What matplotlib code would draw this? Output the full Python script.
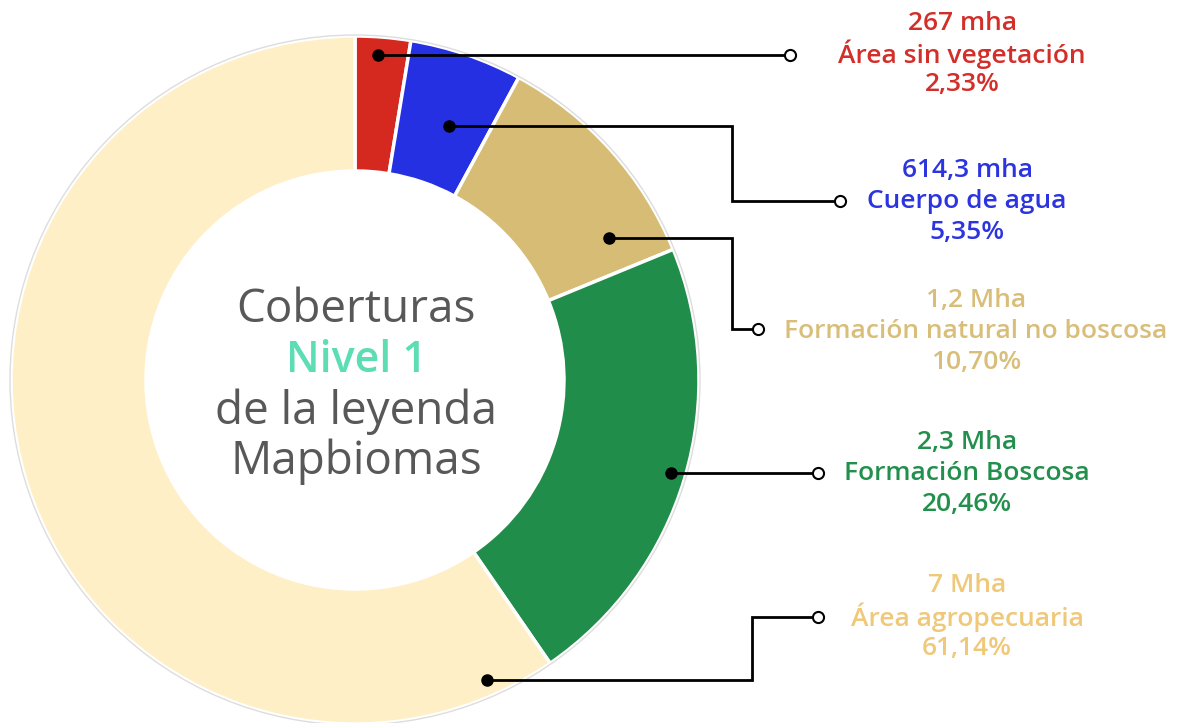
import matplotlib
matplotlib.use("Agg")
import matplotlib.pyplot as plt
from matplotlib.patches import Circle

plt.rcParams['font.family'] = ['Open Sans', 'DejaVu Sans']

# data
categories = ['Área sin vegetación', 'Cuerpo de agua', 'Formación natural no boscosa',
              'Formación Boscosa', 'Área agropecuaria']
areas = ['267 mha', '614,3 mha', '1,2 Mha', '2,3 Mha', '7 Mha']
shares = [2.33, 5.35, 10.70, 20.46, 61.14]
# wedge sizes as drawn in the chart (read from the ring, slightly off the labels)
wedge_sizes = [2.6, 5.3, 10.9, 21.6, 59.6]
wedge_colors = ['#D5281E', '#2530E2', '#D6BC75', '#208D4B', '#FFEFC6']
text_colors = ['#D32F2A', '#2B34DF', '#D8BE79', '#22904C', '#EFC879']

W, H = 1181, 723
fig = plt.figure(figsize=(W / 100, H / 100), dpi=100)
ax = fig.add_axes([0, 0, 1, 1])

cx, cy = 355, H - 380
r_out, r_in = 344, 209

ax.pie(wedge_sizes, colors=wedge_colors, startangle=90, counterclock=False,
       center=(cx, cy), radius=r_out, frame=True,
       wedgeprops=dict(width=r_out - r_in, edgecolor='white', linewidth=2.5))
ax.add_patch(Circle((cx, cy), r_out + 1, fill=False, edgecolor='#dddddd', lw=1))
ax.set_xlim(0, W)
ax.set_ylim(0, H)
ax.set_aspect('equal')
ax.axis('off')

# leader lines (pixel coords, y from top)
leaders = [
    [(378, 55), (790, 55)],
    [(449, 126), (732, 126), (732, 201), (840, 201)],
    [(609, 238), (732, 238), (732, 329), (758, 329)],
    [(671, 473), (818, 473)],
    [(487, 680), (752, 680), (752, 617), (818, 617)],
]
for pts in leaders:
    xs = [p[0] for p in pts]
    ys = [H - p[1] for p in pts]
    ax.plot(xs, ys, color='black', lw=2, solid_joinstyle='miter', zorder=5)
    ax.plot(xs[0], ys[0], 'o', color='black', ms=8, zorder=6)
    ax.plot(xs[-1], ys[-1], 'o', mfc='white', mec='black', mew=1.5, ms=8, zorder=6)

# labels
label_x = [962, 967, 976, 967, 967]
label_y = [23, 171, 301, 443, 586]
for i in range(len(categories)):
    lines = [areas[i], categories[i], f'{shares[i]:.2f}'.replace('.', ',') + '%']
    for j, s in enumerate(lines):
        ax.text(label_x[i], H - (label_y[i] + j * 31), s, color=text_colors[i],
                fontsize=19, fontweight='semibold', ha='center', va='center')

# center title
grey = '#585858'
ax.text(cx + 1, H - 310, 'Coberturas', color=grey, fontsize=33, ha='center', va='center')
ax.text(cx + 1, H - 360, 'Nivel 1', color='#5CDDB4', fontsize=31, fontweight='semibold',
        ha='center', va='center')
ax.text(cx + 1, H - 412, 'de la leyenda', color=grey, fontsize=33, ha='center', va='center')
ax.text(cx + 1, H - 462, 'Mapbiomas', color=grey, fontsize=33, ha='center', va='center')

fig.savefig('out.png', dpi=100, facecolor='white')
